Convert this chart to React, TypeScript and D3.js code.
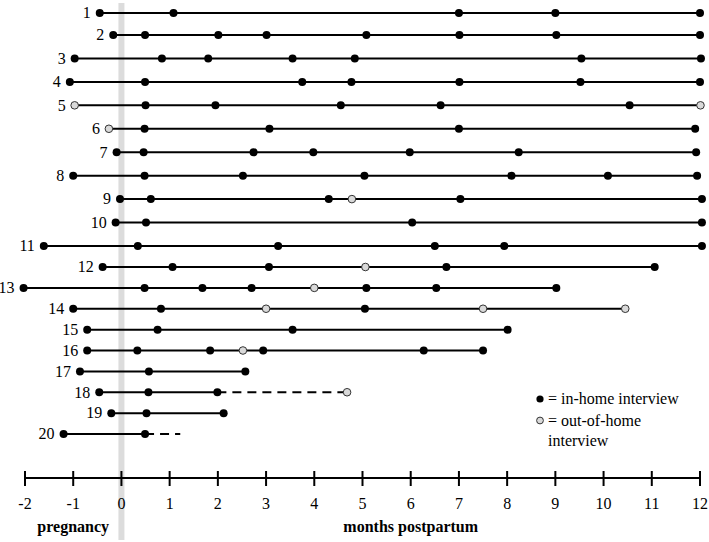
import * as d3 from "d3";

// participant ids, one row each
const participants = [1, 2, 3, 4, 5, 6, 7, 8, 9, 10, 11, 12, 13, 14, 15, 16, 17, 18, 19, 20];

// months of in-home interviews per participant
const inHome: number[][] = [
  [-0.45, 1.08, 7.0, 9.0, 12.0],
  [-0.17, 0.49, 2.01, 3.01, 5.08, 7.01, 9.02, 12.0],
  [-0.97, 0.84, 1.8, 3.55, 4.84, 9.54, 12.02],
  [-1.07, 0.49, 3.75, 4.77, 7.01, 9.52, 12.0],
  [0.5, 1.95, 4.55, 6.62, 10.54],
  [0.48, 3.07, 7.0, 11.9],
  [-0.1, 0.46, 2.74, 3.98, 5.98, 8.24, 11.92],
  [-1.0, 0.48, 2.52, 5.04, 8.09, 10.09, 11.94],
  [-0.03, 0.61, 4.3, 7.03, 12.04],
  [-0.12, 0.51, 6.03, 12.04],
  [-1.61, 0.34, 3.25, 6.5, 7.94, 12.04],
  [-0.39, 1.06, 3.06, 6.74, 11.06],
  [-2.03, 0.48, 1.68, 2.7, 5.08, 6.53, 9.02],
  [-1.0, 0.82, 5.05],
  [-0.71, 0.75, 3.55, 8.01],
  [-0.71, 0.33, 1.84, 2.94, 6.27, 7.5],
  [-0.86, 0.57, 2.57],
  [-0.46, 0.56, 1.99],
  [-0.21, 0.52, 2.12],
  [-1.2, 0.49],
];

// months of out-of-home interviews per participant
const outOfHome: number[][] = [
  [], [], [], [], [-0.97, 12.01], [-0.26], [], [], [4.78], [], [],
  [5.06], [4.0], [3.0, 7.5, 10.45], [], [2.52], [], [4.68], [], [],
];

// dashed follow-up spans [from, to]
const dashedSpans: ([number, number] | null)[] = [
  null, null, null, null, null, null, null, null, null, null,
  null, null, null, null, null, null, null, [1.99, 4.68], null, [0.49, 1.22],
];

const xTicks = [-2, -1, 0, 1, 2, 3, 4, 5, 6, 7, 8, 9, 10, 11, 12];

export default function App() {
  const width = 709;
  const height = 542;
  const font = '"Liberation Serif", "DejaVu Serif", serif';

  const x = d3.scaleLinear().domain([-2, 12]).range([25, 700]);
  const y = d3.scaleLinear().domain([1, 2, 11, 12, 20]).range([13, 35, 246, 267, 434]);
  const axisY = 478;

  const rows = participants.map((id, i) => {
    const all = [...inHome[i], ...outOfHome[i]];
    const start = d3.min(all) as number;
    const dash = dashedSpans[i];
    const end = dash ? dash[0] : (d3.max(all) as number);
    return { id, start, end, dash, home: inHome[i], out: outOfHome[i] };
  });

  return (
    <svg
      width={width}
      height={height}
      style={{ position: "absolute", left: 0, top: 0, background: "#fff", fontFamily: font }}
    >
      {/* delivery band */}
      <rect x={x(0) - 3} y={3} width={6} height={537} fill="#dcdcdc" />

      {rows.map((r) => (
        <g key={r.id}>
          <text
            x={x(r.start) - 9}
            y={y(r.id)}
            dy="0.33em"
            textAnchor="end"
            fontSize={16}
          >
            {r.id}
          </text>
          <line x1={x(r.start)} x2={x(r.end)} y1={y(r.id)} y2={y(r.id)} stroke="#000" strokeWidth={2} />
          {r.dash && (
            <line
              x1={x(r.dash[0])}
              x2={x(r.dash[1])}
              y1={y(r.id)}
              y2={y(r.id)}
              stroke="#000"
              strokeWidth={2}
              strokeDasharray="9,6"
            />
          )}
          {r.home.map((t) => (
            <circle key={"h" + t} cx={x(t)} cy={y(r.id)} r={4} fill="#000" />
          ))}
          {r.out.map((t) => (
            <circle key={"o" + t} cx={x(t)} cy={y(r.id)} r={3.8} fill="#d9d9d9" stroke="#333" strokeWidth={1} />
          ))}
        </g>
      ))}

      {/* legend */}
      <circle cx={540} cy={399} r={3.6} fill="#000" />
      <text x={548} y={404} fontSize={16}>= in-home interview</text>
      <circle cx={540} cy={420.5} r={3.4} fill="#d9d9d9" stroke="#333" strokeWidth={1} />
      <text x={548} y={426} fontSize={16}>= out-of-home</text>
      <text x={548} y={446} fontSize={16}>interview</text>

      {/* axis */}
      <line x1={x(-2)} x2={x(12)} y1={axisY} y2={axisY} stroke="#000" strokeWidth={2} />
      {xTicks.map((t) => (
        <g key={t} transform={`translate(${x(t)},${axisY})`}>
          <line y1={-7} y2={8} stroke="#000" strokeWidth={2} />
          <text y={31} textAnchor="middle" fontSize={16}>
            {t}
          </text>
        </g>
      ))}
      <text x={x(-1)} y={532} textAnchor="middle" fontSize={16} fontWeight="bold">
        pregnancy
      </text>
      <text x={x(6)} y={532} textAnchor="middle" fontSize={16} fontWeight="bold">
        months postpartum
      </text>
    </svg>
  );
}
